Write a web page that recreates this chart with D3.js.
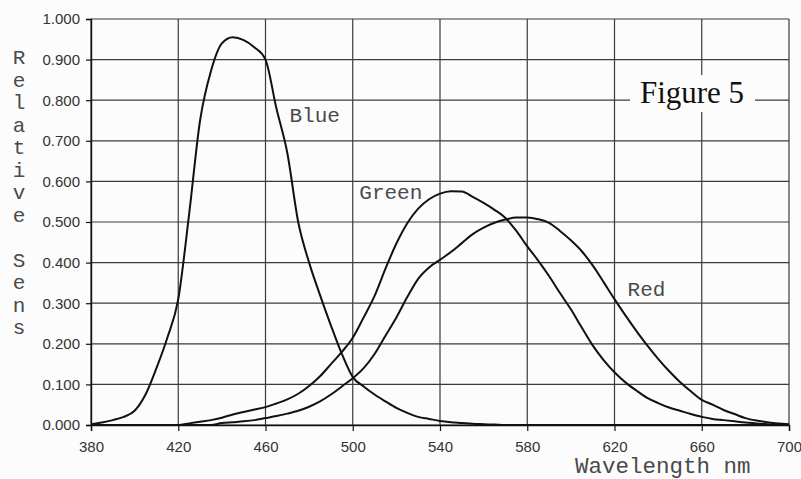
<!DOCTYPE html>
<html>
<head>
<meta charset="utf-8">
<script src="https://cdn.jsdelivr.net/npm/d3@7"></script>
<style>
  html, body { margin: 0; padding: 0; background: #fcfcfc; }
  svg { display: block; }
</style>
</head>
<body>
<svg id="chart" width="801" height="479"></svg>
<script>
// Wavelength samples (nm), shared by all three sensitivity curves
const wavelengths = d3.range(380, 701, 5);

const blue = [
  0.002, 0.006, 0.012, 0.020, 0.035, 0.075, 0.140, 0.215, 0.310, 0.520,
  0.750, 0.872, 0.940, 0.955, 0.948, 0.930, 0.900, 0.780, 0.670, 0.500,
  0.400, 0.320, 0.245, 0.175, 0.118, 0.095, 0.075, 0.058, 0.042, 0.030,
  0.020, 0.015, 0.010, 0.007, 0.005, 0.003, 0.002, 0.001, 0, 0,
  0, 0, 0, 0, 0, 0, 0, 0, 0, 0,
  0, 0, 0, 0, 0, 0, 0, 0, 0, 0,
  0, 0, 0, 0, 0
];

const green = [
  0, 0, 0, 0, 0, 0, 0, 0, 0, 0.004,
  0.008, 0.012, 0.018, 0.026, 0.032, 0.038, 0.044, 0.053, 0.063, 0.077,
  0.096, 0.120, 0.150, 0.180, 0.215, 0.265, 0.318, 0.385, 0.447, 0.497,
  0.533, 0.556, 0.570, 0.576, 0.575, 0.562, 0.547, 0.530, 0.510, 0.478,
  0.440, 0.405, 0.367, 0.325, 0.285, 0.240, 0.196, 0.160, 0.130, 0.105,
  0.085, 0.067, 0.054, 0.043, 0.035, 0.027, 0.020, 0.015, 0.012, 0.009,
  0.006, 0.004, 0.002, 0.001, 0
];

const red = [
  0, 0, 0, 0, 0, 0, 0, 0, 0, 0,
  0, 0, 0.005, 0.007, 0.009, 0.012, 0.017, 0.022, 0.028, 0.035,
  0.045, 0.058, 0.075, 0.095, 0.115, 0.140, 0.175, 0.220, 0.265, 0.315,
  0.360, 0.388, 0.407, 0.426, 0.448, 0.470, 0.486, 0.498, 0.506, 0.511,
  0.511, 0.507, 0.498, 0.478, 0.455, 0.428, 0.393, 0.352, 0.310, 0.270,
  0.232, 0.196, 0.163, 0.133, 0.106, 0.083, 0.062, 0.050, 0.037, 0.027,
  0.017, 0.011, 0.007, 0.004, 0.002
];

const xTicks = [380, 420, 460, 500, 540, 580, 620, 660, 700];
const yTicks = [0, 0.1, 0.2, 0.3, 0.4, 0.5, 0.6, 0.7, 0.8, 0.9, 1.0];

const seriesNames = ["Blue", "Green", "Red"];
const seriesValues = [blue, green, red];

const svg = d3.select("#chart");
const plotLeft = 91, plotRight = 789, plotTop = 19, plotBottom = 425;

const x = d3.scaleLinear().domain([380, 700]).range([plotLeft, plotRight]);
const y = d3.scaleLinear().domain([0, 1]).range([plotBottom, plotTop]);

const gridColor = "#3a3a3a";

// Grid lines
const grid = svg.append("g");
grid.selectAll("line.v").data(xTicks).join("line")
  .attr("class", "v")
  .attr("x1", d => x(d)).attr("x2", d => x(d))
  .attr("y1", plotTop).attr("y2", plotBottom)
  .attr("stroke", gridColor).attr("stroke-width", 1.2);
grid.selectAll("line.h").data(yTicks).join("line")
  .attr("class", "h")
  .attr("x1", plotLeft).attr("x2", plotRight)
  .attr("y1", d => y(d)).attr("y2", d => y(d))
  .attr("stroke", gridColor).attr("stroke-width", 1.2);

// Axes
const tickFont = "'Liberation Sans', Arial, sans-serif";
const xAxis = svg.append("g")
  .attr("transform", `translate(0,${plotBottom})`)
  .call(d3.axisBottom(x).tickValues(xTicks).tickSize(6).tickPadding(10).tickFormat(d3.format("d")));
const yAxis = svg.append("g")
  .attr("transform", `translate(${plotLeft},0)`)
  .call(d3.axisLeft(y).tickValues(yTicks).tickSize(5).tickPadding(6).tickFormat(d3.format(".3f")));
[xAxis, yAxis].forEach(a => {
  a.select(".domain").attr("stroke", "#111").attr("stroke-width", 1.4);
  a.selectAll(".tick line").attr("stroke", "#111").attr("stroke-width", 1.2);
  a.selectAll(".tick text")
    .attr("fill", "#333")
    .style("font-family", tickFont)
    .style("font-size", "15px");
});

// Sensitivity curves
const line = d3.line()
  .x((d, i) => x(wavelengths[i]))
  .y(d => y(d))
  .curve(d3.curveMonotoneX);

svg.append("g").selectAll("path").data(seriesValues).join("path")
  .attr("d", d => line(d))
  .attr("fill", "none")
  .attr("stroke", "#111")
  .attr("stroke-width", 2)
  .attr("stroke-linejoin", "round");

// Curve labels
const monoFont = "'Courier New', 'Liberation Mono', monospace";
const labelPos = [
  { name: "Blue", wl: 471, v: 0.746 },
  { name: "Green", wl: 503, v: 0.557 },
  { name: "Red", wl: 626, v: 0.318 }
];
svg.append("g").selectAll("text").data(labelPos).join("text")
  .attr("x", d => x(d.wl))
  .attr("y", d => y(d.v))
  .attr("fill", "#4a4a4a")
  .style("font-family", monoFont)
  .style("font-size", "21px")
  .text(d => d.name);

// Figure caption box
svg.append("rect")
  .attr("x", 630).attr("y", 75).attr("width", 125).attr("height", 37)
  .attr("fill", "#fcfcfc");
svg.append("text")
  .attr("x", 692).attr("y", 103)
  .attr("text-anchor", "middle")
  .attr("fill", "#111")
  .style("font-family", "'Liberation Serif', 'Times New Roman', serif")
  .style("font-size", "31px")
  .text("Figure 5");

// Axis titles
svg.append("text")
  .attr("x", 575).attr("y", 473)
  .attr("fill", "#4a4a4a")
  .style("font-family", monoFont)
  .style("font-size", "22.5px")
  .text("Wavelength nm");

const yTitle = "Relative Sens";
svg.append("g").selectAll("text").data(yTitle.split("")).join("text")
  .attr("x", 19)
  .attr("y", (d, i) => 64 + i * 22.5)
  .attr("text-anchor", "middle")
  .attr("fill", "#4a4a4a")
  .style("font-family", monoFont)
  .style("font-size", "21px")
  .text(d => d);
</script>
</body>
</html>
